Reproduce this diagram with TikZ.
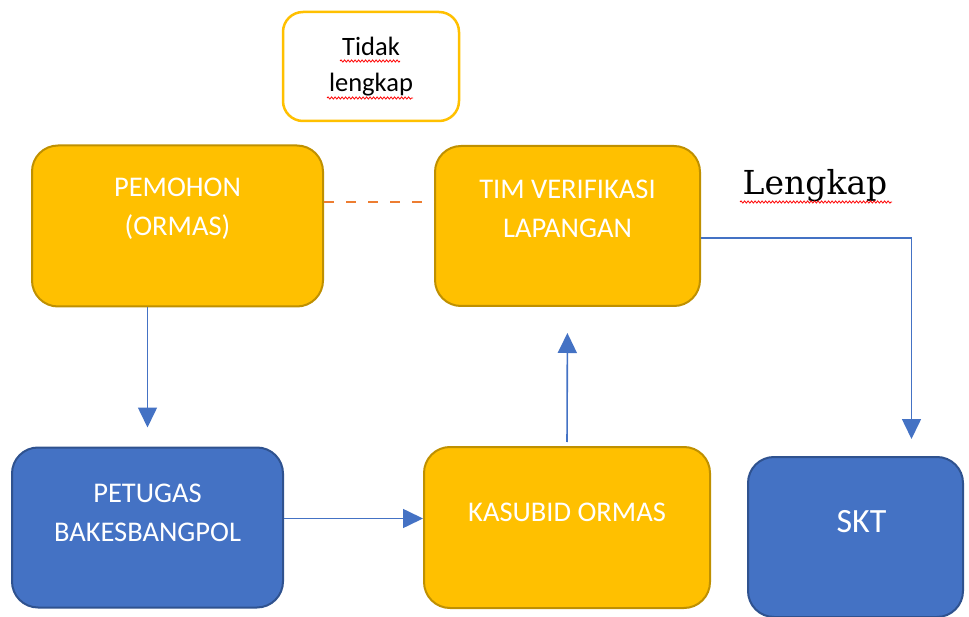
\documentclass[tikz,border=0pt]{standalone}
\usepackage{fontspec}
\setmainfont{Carlito}
\newfontfamily\lengkapfont{DejaVu Serif}
\usepackage{xcolor}
\usetikzlibrary{arrows.meta}
\usetikzlibrary{decorations.pathmorphing}
\definecolor{gold}{HTML}{FFC000}
\definecolor{goldline}{HTML}{BF9000}
\definecolor{boxblue}{HTML}{4472C4}
\definecolor{blueline}{HTML}{2F528F}
\definecolor{dashorange}{HTML}{ED7D31}

\begin{document}
\begin{tikzpicture}[x=1pt, y=-1pt,
    goldbox/.style={draw=goldline, fill=gold, line width=2pt, rounded corners=26pt, inner sep=0pt},
    bluebox/.style={draw=blueline, fill=boxblue, line width=2pt, rounded corners=26pt, inner sep=0pt},
    boxtext/.style={text=white, align=center, font=\fontsize{28.5}{39}\selectfont},
    flow/.style={draw=boxblue, line width=1.6pt, -{Triangle[width=19pt,length=20pt]}},
    typo/.style={draw=red, line width=0.8pt, decorate, decoration={snake, amplitude=1.1pt, segment length=3.5pt}}]
    \useasboundingbox (0,0) rectangle (969,617);
    % boxes
    \node[draw=gold, fill=white, line width=2.5pt, rounded corners=20pt, minimum width=176pt, minimum height=109pt,
      align=center, font=\fontsize{26.5}{36}\selectfont] (tidak) at (371,66.5) {Tidak\\lengkap};
    \node[goldbox, minimum width=291pt, minimum height=161pt] (pemohon) at (177.5,226) {};
    \node[goldbox, minimum width=265pt, minimum height=160pt] (tim) at (567.5,226) {};
    \node[bluebox, minimum width=271pt, minimum height=160pt] (petugas) at (147.5,527.5) {};
    \node[goldbox, minimum width=286pt, minimum height=161pt] (kasubid) at (567,527.5) {};
    \node[bluebox, minimum width=215pt, minimum height=160pt] (skt) at (855.5,537) {};
    % texts
    \node[boxtext] (pemohontxt) at ([yshift=17pt]pemohon.center) {PEMOHON\\(ORMAS)};
    \node[boxtext] (timtxt) at ([yshift=17pt]tim.center) {TIM VERIFIKASI\\LAPANGAN};
    \node[boxtext] (petugastxt) at ([yshift=15pt]petugas.center) {PETUGAS\\BAKESBANGPOL};
    \node[boxtext] (kasubidtxt) at ([yshift=15pt]kasubid.center) {KASUBID ORMAS};
    \node[boxtext, font=\fontsize{34}{40}\selectfont] (skttxt) at ([xshift=6pt,yshift=15pt]skt.center) {SKT};
    \node[anchor=base, font=\lengkapfont\fontsize{33}{38}\selectfont] (lengkap) at (815,195) {Lengkap};
    % spelling marks
    \draw[typo] (340,61) -- (400,61);
    \draw[typo] (327,98) -- (413,98);
    \draw[typo] (740,202) -- (892,202);
    % connectors
    \draw[dashorange, line width=2.5pt, dash pattern=on 10pt off 12pt] ([yshift=24pt]pemohon.east) -- ([yshift=24pt]tim.west);
    \draw[flow, shorten >=19pt] (pemohon.south -| petugas.north) -- (petugas.north);
    \draw[flow] ([yshift=9pt]petugas.east) -- ([yshift=9pt]kasubid.west);
    \draw[flow, shorten <=4pt, shorten >=26pt] (kasubid.north) -- (tim.south);
    \draw[flow, shorten >=17pt] ([yshift=-12pt]tim.east) -| ([xshift=56pt]skt.north);
\end{tikzpicture}
\end{document}
